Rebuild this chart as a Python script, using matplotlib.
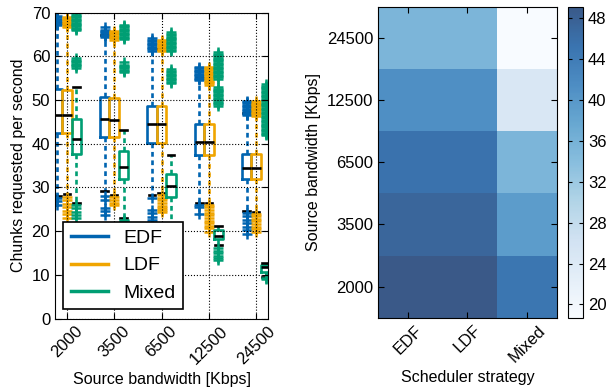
import matplotlib
matplotlib.use("Agg")
import matplotlib.pyplot as plt
import numpy as np

plt.rcParams["font.family"] = ["Liberation Sans", "DejaVu Sans"]
plt.rcParams["font.size"] = 11.5
plt.rcParams["xtick.labelsize"] = 12
plt.rcParams["ytick.labelsize"] = 12

# ---- data ----
bandwidths = ["2000", "3500", "6500", "12500", "24500"]
strategies = ["EDF", "LDF", "Mixed"]
colors = {"EDF": "#0064B0", "LDF": "#F0A500", "Mixed": "#009E73"}

# box stats per strategy, one entry per bandwidth
q1 = {
    "EDF":   [42.4, 41.6, 40.1, 37.5, 32.0],
    "LDF":   [42.5, 41.6, 40.1, 37.5, 32.0],
    "Mixed": [37.6, 32.0, 27.7, 18.1, 10.6],
}
med = {
    "EDF":   [46.6, 45.7, 44.5, 40.3, 34.5],
    "LDF":   [46.6, 45.5, 44.5, 40.3, 34.5],
    "Mixed": [41.0, 34.6, 30.2, 18.9, 11.8],
}
q3 = {
    "EDF":   [52.4, 50.7, 48.6, 44.5, 37.7],
    "LDF":   [52.2, 50.5, 48.6, 44.5, 37.7],
    "Mixed": [45.7, 38.3, 33.1, 20.2, 12.3],
}
whislo = {
    "EDF":   [28.0, 29.1, 28.2, 26.4, 24.6],
    "LDF":   [28.5, 28.2, 28.8, 26.4, 24.4],
    "Mixed": [26.5, 23.0, 21.8, 16.8, 9.5],
}
whishi = {
    "EDF":   [67.6, 64.8, 61.8, 55.0, 47.0],
    "LDF":   [67.2, 64.3, 61.6, 54.0, 46.9],
    "Mixed": [53.0, 43.2, 37.3, 21.2, 12.8],
}
fliers = {
    "EDF": [
        [27.5, 26.8, 26.0, 67.1, 67.4, 67.7, 68.0, 68.3, 68.6, 68.9, 69.1],
        [28.0, 27.2, 25.3, 24.5, 23.7, 64.3, 64.6, 64.9, 65.2, 65.5, 65.8, 66.1, 66.6],
        [27.6, 24.8, 24.1, 23.3, 22.5, 61.3, 61.6, 61.9, 62.2, 62.5, 62.8, 63.1, 63.4, 63.8, 64.2],
        [26.0, 25.4, 24.0, 54.5, 54.8, 55.1, 55.4, 55.7, 56.0, 56.3, 56.6, 56.9, 57.2, 57.6],
        [24.2, 23.4, 22.6, 21.8, 21.0, 20.2, 19.4, 46.5, 46.8, 47.1, 47.4, 47.7, 48.0, 48.3,
         48.6, 48.9, 49.2, 49.5, 49.8],
    ],
    "LDF": [
        [27.8, 27.0, 26.2, 25.4, 24.6, 23.8, 22.9, 66.7, 67.0, 67.3, 67.6, 67.9, 68.2, 68.5,
         68.8, 69.0],
        [27.7, 27.0, 26.4, 26.0, 63.8, 64.1, 64.4, 64.7, 65.0, 65.3, 65.6, 65.8],
        [28.2, 27.6, 27.0, 26.4, 25.8, 25.2, 24.8, 24.4, 61.1, 61.4, 61.7, 62.0, 62.3, 62.6,
         62.9, 63.2, 63.5, 63.8],
        [26.0, 25.4, 24.8, 24.2, 23.6, 23.0, 22.4, 21.8, 21.2, 20.6, 19.8, 53.5, 53.8, 54.1,
         54.4, 54.7, 55.0, 55.3, 55.6, 55.9, 56.2, 56.5, 56.8, 57.1, 57.4, 57.6],
        [24.0, 23.4, 22.8, 22.2, 21.6, 21.0, 20.4, 19.8, 46.4, 46.7, 47.0, 47.3, 47.6, 47.9,
         48.2, 48.5, 48.8, 49.1, 49.4, 49.8],
    ],
    "Mixed": [
        [26.0, 25.2, 24.4, 23.6, 22.9, 57.4, 57.7, 58.0, 58.3, 58.6, 58.9, 59.2, 59.6,
         65.9, 66.2, 66.5, 66.8, 67.1, 67.4, 67.7, 68.0, 68.3, 68.6, 68.9, 69.2, 69.5, 69.8],
        [22.6, 22.3, 22.0, 56.3, 56.6, 56.9, 57.2, 57.5, 57.8, 58.1, 58.6,
         63.9, 64.2, 64.5, 64.8, 65.1, 65.4, 65.7, 66.0, 66.3, 66.6, 66.9, 67.2],
        [53.9, 54.2, 54.5, 54.8, 55.1, 55.4, 55.7, 56.0, 56.3, 56.6, 57.0,
         61.2, 61.5, 61.8, 62.1, 62.4, 62.7, 63.0, 63.3, 63.6, 63.9, 64.2, 64.5, 64.8, 65.1,
         65.5],
        [16.1, 15.5, 14.9, 14.3, 13.8, 13.4, 48.7, 49.0, 49.3, 49.6, 49.9, 50.2, 50.5, 50.8,
         51.1, 51.4, 51.7, 52.0, 52.3, 52.6, 53.0, 54.9, 55.2, 55.5, 55.8, 56.1, 56.4, 56.7,
         57.0, 57.3, 57.6, 57.9, 58.2, 58.5, 58.8, 59.1, 59.4, 59.7, 60.0, 60.3, 60.6, 61.0],
        [9.3, 9.1, 41.9, 42.2, 42.5, 42.8, 43.1, 43.4, 43.7, 44.0, 44.3, 44.6, 44.9, 45.2,
         45.5, 45.8, 46.1, 46.4, 46.7, 47.0, 47.3, 47.6, 47.9, 48.2, 48.5, 48.8, 49.1, 49.4,
         49.7, 50.0, 50.3, 50.6, 50.9, 51.2, 51.5, 51.8, 52.1, 52.4, 52.7, 53.0, 53.3, 53.6],
    ],
}

# heatmap values (rows: bandwidth, cols: strategy)
heat_edf = [49.1, 47.3, 45.5, 41.2, 35.4]
heat_ldf = [49.1, 47.3, 45.5, 41.2, 35.4]
heat_mixed = [44.9, 39.4, 35.4, 24.8, 18.7]

# ---- figure ----
fig = plt.figure(figsize=(6.09, 3.87), dpi=100)
ax = fig.add_axes([0.0903, 0.177, 0.3498, 0.7907])

offsets = {"EDF": -0.2, "LDF": 0.0, "Mixed": 0.2}
lw = 1.9
for name in strategies:
    stats = []
    for i in range(len(bandwidths)):
        stats.append({
            "med": med[name][i], "q1": q1[name][i], "q3": q3[name][i],
            "whislo": whislo[name][i], "whishi": whishi[name][i],
            "fliers": fliers[name][i],
        })
    pos = np.arange(1, len(bandwidths) + 1) + offsets[name]
    c = colors[name]
    ax.bxp(stats, positions=pos, widths=0.2, capwidths=0.14, manage_ticks=False,
           boxprops=dict(color=c, linewidth=lw),
           whiskerprops=dict(color=c, linewidth=lw, linestyle=(0, (1.8, 1.4))),
           capprops=dict(color="black", linewidth=lw),
           medianprops=dict(color="black", linewidth=lw),
           flierprops=dict(marker="+", markeredgecolor=c, markersize=6.5,
                           markeredgewidth=1.8, linestyle="none"))
    ax.plot([], [], color=c, linewidth=2.5, label=name)

ax.set_xlim(0.75, 5.25)
ax.set_ylim(0, 70)
ax.set_xticks(np.arange(1, len(bandwidths) + 1))
ax.set_xticklabels(bandwidths, rotation=45)
ax.set_yticks(np.arange(0, 71, 10))
ax.set_axisbelow(False)
ax.grid(True, color="black", linestyle=":", linewidth=0.8)
ax.tick_params(direction="in", top=True, right=True, length=4)
ax.set_xlabel("Source bandwidth [Kbps]")
ax.set_ylabel("Chunks requested per second")
leg = ax.legend(loc="lower left", bbox_to_anchor=(0.0376, 0.0295), borderaxespad=0,
                fancybox=False, edgecolor="black", fontsize=14, handlelength=1.9,
                framealpha=1)
leg.get_frame().set_linewidth(1.2)

# ---- heatmap ----
ax2 = fig.add_axes([0.6207, 0.179, 0.2939, 0.8036])
grid = np.array([heat_edf, heat_ldf, heat_mixed]).T
mesh = ax2.pcolormesh(grid, cmap="Blues", alpha=0.8)
ax2.set_xticks(np.arange(len(strategies)) + 0.5)
ax2.set_xticklabels(strategies, rotation=45)
ax2.set_yticks(np.arange(len(bandwidths)) + 0.5)
ax2.set_yticklabels(bandwidths)
ax2.tick_params(direction="in", top=True, right=True, length=4)
ax2.set_xlabel("Scheduler strategy")
ax2.set_ylabel("Source bandwidth [Kbps]")

cax = fig.add_axes([0.9327, 0.179, 0.0246, 0.8036])
cb = fig.colorbar(mesh, cax=cax, ticks=np.arange(20, 49, 4))
cb.ax.tick_params(direction="in", length=3, left=True)

fig.savefig("out.png", dpi=100)
